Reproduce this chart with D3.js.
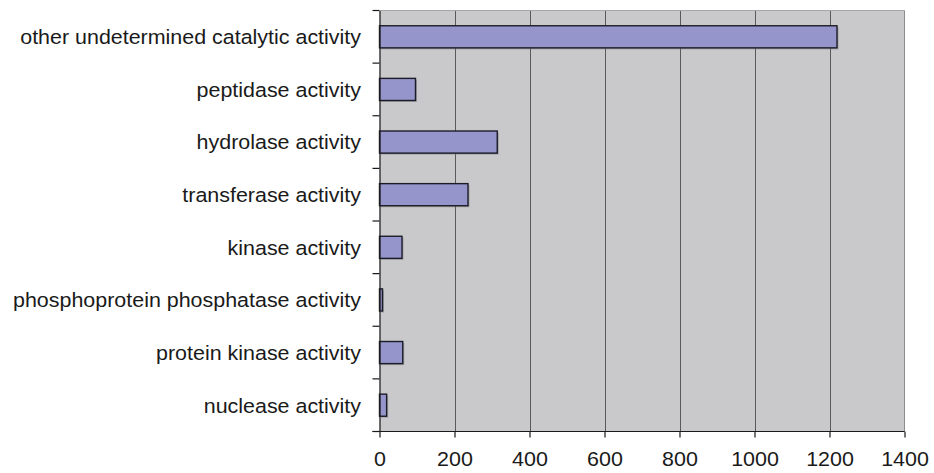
<!DOCTYPE html>
<html>
<head>
<meta charset="utf-8">
<script src="https://cdn.jsdelivr.net/npm/d3@7"></script>
<style>
  html, body { margin: 0; padding: 0; background: #ffffff; }
  svg { display: block; font-family: "Liberation Sans", Arial, sans-serif; }
</style>
</head>
<body>
<svg id="chart" width="934" height="473"></svg>
<script>
// Catalytic activity categories, top to bottom
const categories = [
  "other undetermined catalytic activity",
  "peptidase activity",
  "hydrolase activity",
  "transferase activity",
  "kinase activity",
  "phosphoprotein phosphatase activity",
  "protein kinase activity",
  "nuclease activity"
];
// Number of entries per category
const counts = [1220, 96, 314, 236, 60, 8, 62, 19];
// Value axis ticks
const xTicks = [0, 200, 400, 600, 800, 1000, 1200, 1400];

const svg = d3.select("#chart");
const margin = { left: 379.5, right: 904.5, top: 10.5, bottom: 431.5 };
const fontSize = 19.5;
const stretch = 1.1; // horizontal text stretch

const x = d3.scaleLinear().domain([0, 1400]).range([margin.left, margin.right]);
const y = d3.scaleBand().domain(categories)
  .range([margin.top, margin.bottom])
  .paddingInner(0.58).paddingOuter(0.29);

// Plot background
svg.append("rect")
  .attr("x", margin.left).attr("y", margin.top)
  .attr("width", margin.right - margin.left)
  .attr("height", margin.bottom - margin.top)
  .attr("fill", "#c9c9cb");

// Vertical gridlines
svg.append("g").selectAll("line")
  .data(xTicks.filter(d => d > 0 && d < 1400))
  .join("line")
  .attr("x1", d => Math.round(x(d)) + 0.5).attr("x2", d => Math.round(x(d)) + 0.5)
  .attr("y1", margin.top).attr("y2", margin.bottom)
  .attr("stroke", "#5a5a5a").attr("stroke-width", 1);

// Top and right frame
svg.append("line")
  .attr("x1", margin.left).attr("x2", margin.right)
  .attr("y1", margin.top).attr("y2", margin.top)
  .attr("stroke", "#a6a6a6").attr("stroke-width", 1);
svg.append("line")
  .attr("x1", margin.right).attr("x2", margin.right)
  .attr("y1", margin.top).attr("y2", margin.bottom)
  .attr("stroke", "#8c8c8c").attr("stroke-width", 1);

// Bar shadows
svg.append("g").selectAll("rect")
  .data(categories)
  .join("rect")
  .attr("x", x(0) + 1.5)
  .attr("y", d => y(d) + 1.5)
  .attr("width", (d, i) => x(counts[i]) - x(0))
  .attr("height", y.bandwidth())
  .attr("fill", "#7f7f86").attr("opacity", 0.55);

// Bars
svg.append("g").selectAll("rect")
  .data(categories)
  .join("rect")
  .attr("x", x(0))
  .attr("y", d => y(d))
  .attr("width", (d, i) => x(counts[i]) - x(0))
  .attr("height", y.bandwidth())
  .attr("fill", "#9595cb")
  .attr("stroke", "#1c1c28").attr("stroke-width", 1.4);

// Category axis
const yAxis = d3.axisLeft(y).tickSize(0).tickPadding(18);
const gy = svg.append("g").attr("transform", `translate(${margin.left},0)`).call(yAxis);
gy.select(".domain").attr("stroke", "#1a1a1a").attr("stroke-width", 1.2);
gy.selectAll("text")
  .attr("font-size", fontSize).attr("fill", "#1a1a1a")
  .attr("font-family", "'Liberation Sans', Arial, sans-serif")
  .attr("x", 0).attr("dy", "0.38em")
  .attr("transform", `translate(-18.5,0) scale(${stretch},1)`);

// Category separator ticks
const step = y.step();
const bounds = d3.range(categories.length + 1).map(i => margin.top + i * step);
svg.append("g").selectAll("line")
  .data(bounds)
  .join("line")
  .attr("x1", margin.left - 7).attr("x2", margin.left)
  .attr("y1", d => d).attr("y2", d => d)
  .attr("stroke", "#1a1a1a").attr("stroke-width", 1.2);

// Value axis
const xAxis = d3.axisBottom(x).tickValues(xTicks).tickSize(6).tickPadding(14.5)
  .tickFormat(d3.format("d"));
const gx = svg.append("g").attr("transform", `translate(0,${margin.bottom})`).call(xAxis);
gx.select(".domain").attr("d", `M${margin.left - 7},0H${margin.right}`)
  .attr("stroke", "#1a1a1a").attr("stroke-width", 1.2);
gx.selectAll(".tick line").attr("stroke", "#1a1a1a").attr("stroke-width", 1.2);
gx.selectAll("text")
  .attr("font-size", fontSize).attr("fill", "#1a1a1a")
  .attr("font-family", "'Liberation Sans', Arial, sans-serif")
  .attr("transform", function() {
    const yy = d3.select(this).attr("y");
    return `translate(0,${yy}) scale(${stretch},1) translate(0,${-yy})`;
  });
</script>
</body>
</html>
